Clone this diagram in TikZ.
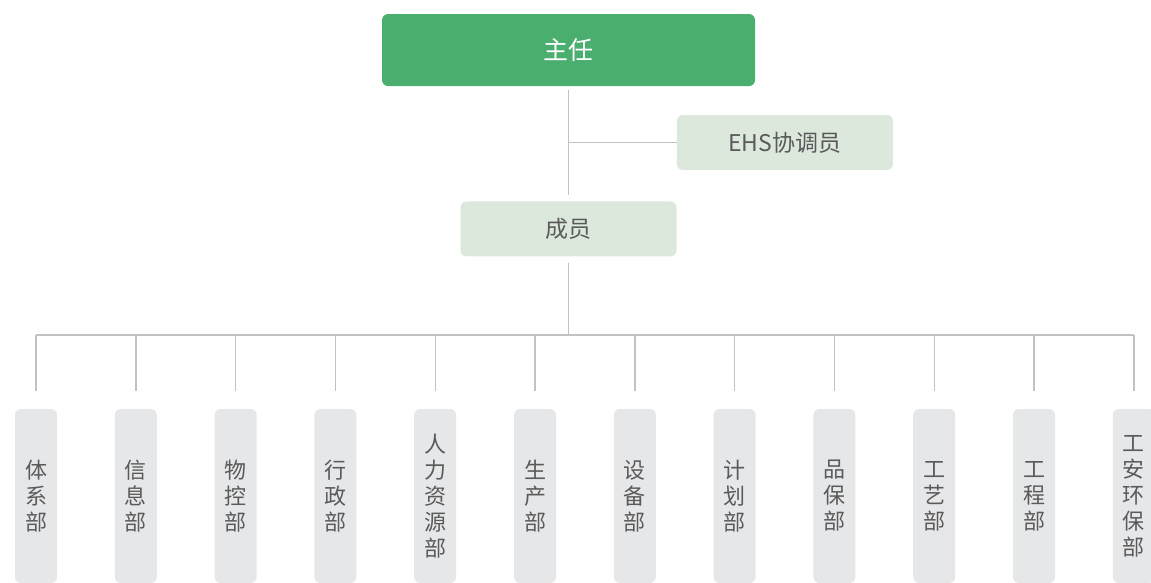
\documentclass[tikz,border=0pt]{standalone}
\usepackage{fontspec}
\setmainfont{Noto Sans CJK SC}
\usetikzlibrary{positioning}

\definecolor{headGreen}{HTML}{4AAE6F}
\definecolor{paleGreen}{HTML}{DDE8DC}
\definecolor{deptGray}{HTML}{E6E7E9}
\definecolor{textGray}{HTML}{5A5A5A}
\definecolor{lineGray}{HTML}{C2C2C4}

\begin{document}
\begin{tikzpicture}[x=1pt,y=1pt]
      \tikzset{
        box/.style={rounded corners=6pt, inner sep=0pt, align=center},
        head/.style={box, fill=headGreen, text=white,
          minimum width=373pt, minimum height=72pt,
          font=\fontsize{25}{30}\selectfont},
        member/.style={box, fill=paleGreen, text=textGray,
          minimum width=216pt, minimum height=55pt,
          font=\fontsize{23}{28}\selectfont},
        dept/.style={box, fill=deptGray, text=textGray,
          minimum width=42pt, minimum height=174pt,
          font=\fontsize{22}{26}\selectfont},
        link/.style={draw=lineGray, line width=1.4pt},
      }
      \useasboundingbox (0,0) rectangle (1151,-582);

      \node[head] (zr) at (568.5,-50) {主任};
      \node[member, below=115pt of zr] (cy) {成员};
      \node[member, above right=31pt and 0pt of cy] (ehs) {EHS协调员};

      \foreach \name [count=\i] in {体\\系\\部, 信\\息\\部, 物\\控\\部,
          行\\政\\部, 人\\力\\资\\源\\部, 生\\产\\部, 设\\备\\部,
          计\\划\\部, 品\\保\\部, 工\\艺\\部, 工\\程\\部,
          工\\安\\环\\保\\部}
        \node[dept] (d\i) at ({36+99.8*(\i-1)},-496) {\name};

      \coordinate (bus) at (568.5,-335);

      \draw[link, shorten <=4pt, shorten >=6pt] (zr.south) -- (cy.north);
      \draw[link] (zr |- ehs.west) -- (ehs.west);
      \draw[link, shorten <=6pt] (cy.south) -- (bus);
      \draw[link] (d1 |- bus) -- (d12 |- bus);
      \foreach \i in {1,...,12}
        \draw[link, shorten >=18pt] (d\i |- bus) -- (d\i.north);
    \end{tikzpicture}
\end{document}
